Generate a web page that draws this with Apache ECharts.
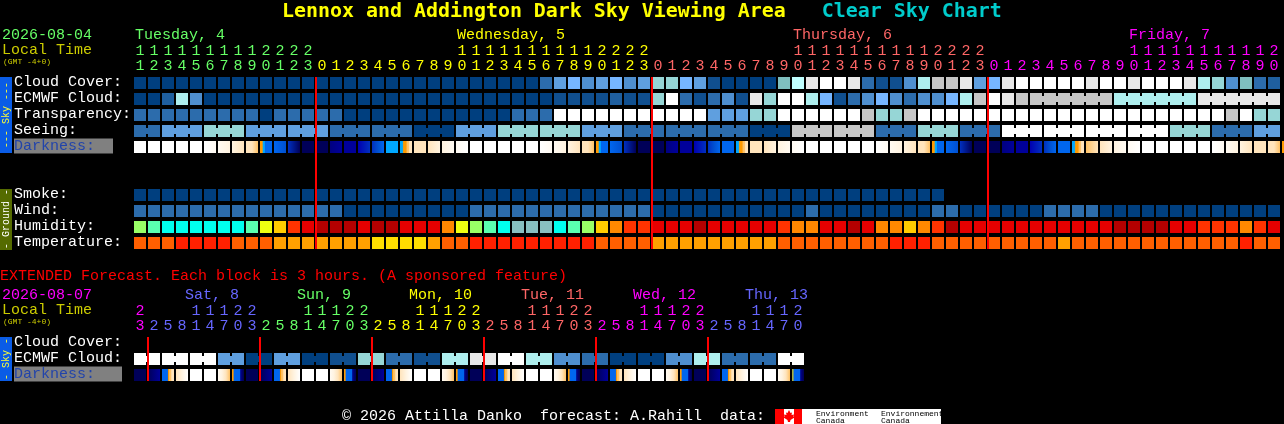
<!DOCTYPE html>
<html>
<head>
<meta charset="utf-8">
<style>html,body{margin:0;padding:0;background:#000}#c{width:1284px;height:424px}</style>
<script src="https://cdn.jsdelivr.net/npm/echarts@6/dist/echarts.min.js"></script>
</head>
<body>
<div id="c"></div>
<script>
// ---------- tick labels ----------
const mainOnes = [1,2,3,4,5,6,7,8,9,0,1,2,3, 0,1,2,3,4,5,6,7,8,9,0,1,2,3,4,5,6,7,8,9,0,1,2,3,
  0,1,2,3,4,5,6,7,8,9,0,1,2,3,4,5,6,7,8,9,0,1,2,3, 0,1,2,3,4,5,6,7,8,9,0,1,2,3,4,5,6,7,8,9,0];
const mainTens = ['1','1','1','1','1','1','1','1','1','2','2','2','2',
  '','','','','','','','','','','1','1','1','1','1','1','1','1','1','1','2','2','2','2',
  '','','','','','','','','','','1','1','1','1','1','1','1','1','1','1','2','2','2','2',
  '','','','','','','','','','','1','1','1','1','1','1','1','1','1','1','2'];
const mainDayOfCol = [0,0,0,0,0,0,0,0,0,0,0,0,0,
  1,1,1,1,1,1,1,1,1,1,1,1,1,1,1,1,1,1,1,1,1,1,1,1,
  2,2,2,2,2,2,2,2,2,2,2,2,2,2,2,2,2,2,2,2,2,2,2,2,
  3,3,3,3,3,3,3,3,3,3,3,3,3,3,3,3,3,3,3,3,3];
const mainDayColors = ['#66ff66','#ffff00','#ff6666','#ff00ff'];
const mainDays = [['Tuesday, 4',0],['Wednesday, 5',23],['Thursday, 6',47],['Friday, 7',71]];
const mainRows = ['Cloud Cover:','ECMWF Cloud:','Transparency:','Seeing:','Darkness:',' ','  ','Smoke:','Wind:','Humidity:','Temperature:'];
const extOnes = [3,2,5,8,1,4,7,0,3,2,5,8,1,4,7,0,3,2,5,8,1,4,7,0,3,2,5,8,1,4,7,0,3,2,5,8,1,4,7,0,3,2,5,8,1,4,7,0];
const extTens = ['2','','','','1','1','1','2','2','','','','1','1','1','2','2','','','','1','1','1','2','2',
  '','','','1','1','1','2','2','','','','1','1','1','2','2','','','','1','1','1','2'];
const extDayOfCol = [0,1,1,1,1,1,1,1,1,2,2,2,2,2,2,2,2,3,3,3,3,3,3,3,3,4,4,4,4,4,4,4,4,5,5,5,5,5,5,5,5,6,6,6,6,6,6,6];
const extDayColors = ['#ff00ff','#6666ff','#66ff66','#ffff00','#ff6666','#ff00ff','#6666ff'];
const extDays = [['Sat, 8',4,'#6666ff'],['Sun, 9',12,'#66ff66'],['Mon, 10',20,'#ffff00'],['Tue, 11',28,'#ff6666'],['Wed, 12',36,'#ff00ff'],['Thu, 13',44,'#6666ff']];
const extRows = ['Cloud Cover:','ECMWF Cloud:','Darkness:'];

// ---------- colour scales ----------
const skyScale = ['#003f7f','#104f8f','#1f5f9f','#2c6cac','#4f8fcf','#5f9fdf','#76b6ff','#7fbfbf','#96d6d6','#aeeeee','#c6c6c6','#e8e8e8','#ffffff','#bfffff'];
const humidityScale = ['#b40000','#e60000','#ff3300','#ff8800','#ffcc00','#eeff11','#99ff66','#5affb0','#00ffee','#88c0c0'];
const temperatureScale = ['#ff2000','#ff5f00','#ffa000','#ffdd00'];
const darkScale = {W:'#ffffff',V:'#fffaf2',C:'#fff3e0',P:'#ffe4bc',O:'#ffc266',A:'#ff9a00',L:'#a8b040',S:'#00a8ff',B:'#0066ee',E:'#0050d0',M:'#0030c0',R:'#0000b0',N:'#00009a',T:'#000080',D:'#000058'};

// ---------- series values (one per hour) ----------
const cloudCover = [
  0,0,0,0,0,0,0,0,0,0, 0,0,0,0,0,0,0,0,0,0, 0,0,0,0,0,0,0,0,0,3,
  5,6,4,5,6,4,5,8,8,6, 5,1,0,0,0,0,7,13,11,12, 12,11,3,1,1,4,9,10,10,11,
  5,6,11,12,12,12,12,12,11,12, 12,11,12,12,12,11,9,8,4,7,3,2];
const ecmwfCloud = [
  0,0,2,9,4,0,0,0,0,0, 0,0,0,0,0,0,0,0,0,0, 0,0,0,0,0,0,0,0,0,0,
  1,1,1,1,2,1,1,8,12,3, 1,3,4,1,11,8,12,12,9,6, 1,3,4,6,4,3,4,4,6,9,
  10,12,11,10,10,10,10,10,10,10, 9,9,9,9,9,9,11,11,11,11,11,11];
const ecmwfLinked = [[64,6],[70,6],[76,6]];
const transparency = [
  3,3,3,3,3,3,3,3,3,0, 3,3,3,3,3,0,0,0,0,0, 0,0,0,0,0,0,0,3,3,3,
  12,12,12,12,12,12,12,12,12,12, 12,5,5,5,8,8,12,12,12,12, 12,12,10,8,8,10,12,12,12,12,
  12,12,12,12,12,12,12,12,12,12, 12,12,12,12,12,12,12,12,10,12,8,8];
const seeingSpans = [2,3,3,3,3,3,3,3,3,3,3,3,3,3,3,3,3,3,3,3,3,3,3,3,3,3,3,2];
const seeingValues = [3,5,8,5,5,3,3,0,5,8,8,5,3,3,3,0,10,10,3,8,3,12,12,12,12,8,3,5];
const darkness = [
  'W','W','W','W','W','WV','VC','CP','PPO','AAASSBBBBBBB','BE','MD','D','D','TN','N','RM','MEB','S','SSSAAAOOPPP','P','PC','CV','VW',
  'W','W','W','W','W','WV','VC','CP','PPO','AAASSBBBBBBB','BE','MD','D','D','TN','N','RM','MEB','B','SSSAAAOOPPP','P','PC','CV','VW',
  'W','W','W','W','W','WV','VC','CP','PPO','AAASSBBBBBBB','BE','MD','D','D','TN','N','RM','MEB','B','SSSAAAOOPPP','OP','PC','CV','VW',
  'W','W','W','W','W','WV','VC','CP','PP','PPO','AAASSBBBBBBB'];
const smoke = [
  0,0,0,0,0,0,0,0,0,0, 0,0,0,0,0,0,0,0,0,0, 0,0,0,0,0,0,0,0,0,0,
  0,0,0,0,0,0,0,0,0,0, 0,0,0,0,0,0,0,0,0,0, 0,0,0,0,0,0,0,0];
const wind = [
  3,3,3,3,3,3,3,3,3,3, 3,3,3,3,3,0,0,0,0,0, 0,0,0,0,3,3,3,3,3,3,
  3,3,3,3,3,3,3,0,0,0, 0,0,0,0,0,0,0,0,3,0, 0,0,0,0,0,0,0,3,3,0,
  0,0,0,0,0,3,3,3,3,0, 0,0,0,0,0,0,0,0,0,0,0,0];
const humidity = [
  6,7,8,8,8,8,8,8,7,5, 4,2,1,0,0,0,1,0,0,1, 1,1,3,5,6,7,8,9,9,9,
  8,7,6,4,3,2,2,1,1,1, 0,1,1,1,1,1,2,3,3,1, 1,0,1,3,3,4,3,2,0,1,
  1,1,1,1,1,1,1,1,1,1, 0,0,0,0,1,1,2,2,2,3,2,1];
const temperature = [
  1,1,1,0,0,0,0,1,1,1, 2,2,2,2,2,2,2,3,3,3, 3,2,1,1,0,0,0,0,0,0,
  0,0,0,1,1,1,1,2,2,2, 2,2,2,2,2,2,1,1,1,1, 1,1,1,1,0,0,0,1,1,1,
  1,1,1,1,1,1,2,1,1,1, 1,1,1,1,1,1,1,1,1,0,1,1];
const midnightCols = [13,37,61];
// ---------- extended forecast (one per 3 hours) ----------
const extCloudCover = [];
const extEcmwfPairs = [12,12,12,5,0,5,0,1,8,3,1,9,11,12,9,4,3,0,0,4,9,3,3,12];
const extDarkness = [
  'D','DN','BBBBBBAOOPPP','PCW','W','W','VCPO','AABBBBBBTTDD',
  'D','DN','BBBBBBAOOPPP','PCW','W','W','VCPO','AABBBBBBTTDD',
  'D','DN','BBBBBBAOOPPP','PCW','W','W','VCPO','AABBBBBBTTDD',
  'D','DN','BBBBBBAOOPPP','PCW','W','W','VCPO','AABBBBBBTTDD',
  'D','DN','BBBBBBAOOPPP','PCW','W','W','VCPO','AABBBBBBTTDD',
  'D','DN','BBBBBBAOOPPP','PCW','W','W','VCPO','LLBBBBBBTTDD'];
const extMidnightCols = [1,9,17,25,33,41];

// ---------- drawing helpers ----------
const MONO = "'Liberation Mono', monospace";
const TITLE = "'DejaVu Sans Mono', monospace";
const CELL = 12, ROW_H = 12;
function cellRender(scale){
  return function(p, api){
    const c = api.coord([api.value(0), api.value(1)]);
    return {type:'rect', shape:{x:c[0]-CELL/2, y:c[1]-ROW_H/2, width:CELL, height:ROW_H}, style:{fill:scale[api.value(2)]}};
  };
}
function neckRender(scale){
  return function(p, api){
    const c = api.coord([api.value(0), api.value(1)]);
    return {type:'rect', shape:{x:c[0]+CELL/2, y:c[1]-3, width:2, height:6}, style:{fill:scale[api.value(2)]}};
  };
}
function darkRender(list){
  return function(p, api){
    const c = api.coord([api.value(0), api.value(1)]);
    const code = list[p.dataIndex];
    let fill;
    if (code.length === 1) fill = darkScale[code];
    else fill = {type:'linear', x:0, y:0, x2:1, y2:0,
      colorStops: code.split('').map((k,i)=>({offset:i/(code.length-1), color:darkScale[k]}))};
    return {type:'rect', shape:{x:c[0]-CELL/2, y:c[1]-ROW_H/2, width:CELL, height:ROW_H}, style:{fill}};
  };
}
function lineRender(p, api){
  const a = api.coord([api.value(0), api.value(1)]);
  const b = api.coord([api.value(0), api.value(2)]);
  return {type:'rect', shape:{x:a[0]-7, y:a[1]-6, width:2, height:b[1]-a[1]+12}, style:{fill:'#ff0000'}};
}
function rowSeries(values, row, scale, xi, yi, z){
  return {type:'custom', xAxisIndex:xi, yAxisIndex:yi, z:z||2, clip:false, silent:true,
    renderItem:cellRender(scale), data:values.map((v,i)=>[i,row,v])};
}
function neckSeries(links, values, row, scale, xi, yi){
  return {type:'custom', xAxisIndex:xi, yAxisIndex:yi, z:2, clip:false, silent:true,
    renderItem:neckRender(scale), data:links.map(i=>[i,row,values[i]])};
}
function expand(spans, vals){ const o=[]; spans.forEach((n,k)=>{for(let j=0;j<n;j++)o.push(vals[k]);}); return o; }
function linksOf(spans){ const o=[]; let s=0; spans.forEach(n=>{for(let j=0;j<n-1;j++)o.push(s+j); s+=n;}); return o; }
const seeing = expand(seeingSpans, seeingValues);
const extEcmwf = expand(extEcmwfPairs.map(()=>2), extEcmwfPairs);
const ecmwfLinks = []; ecmwfLinked.forEach(([s,n])=>{for(let j=0;j<n-1;j++)ecmwfLinks.push(s+j);});

function xAxisFor(grid, labels, colorOf, offset, margin){
  return {type:'category', gridIndex:grid, position:'top', offset:offset, data:labels.map(String), boundaryGap:true,
    axisLine:{show:false}, axisTick:{show:false}, splitLine:{show:false},
    axisLabel:{interval:0, margin:margin, fontFamily:MONO, fontSize:15, color:(v,i)=>colorOf(i), hideOverlap:false}};
}
function yAxisFor(grid, rows, boxChars){
  return {type:'category', gridIndex:grid, inverse:true, data:rows,
    axisLine:{show:false}, axisTick:{show:false}, splitLine:{show:false},
    axisLabel:{interval:0, margin:119, align:'left', fontFamily:MONO, fontSize:15, color:'#ffffff', padding:[0,0,2,0],
      formatter:v=> v==='Darkness:' ? '{d|'+v+'}' : v,
      rich:{d:{backgroundColor:'#808080', color:'#2244aa', fontFamily:MONO, fontSize:15, width:boxChars*9, height:15, lineHeight:15, align:'left'}}}};
}
function txt(text,x,y,fill,size,extra){
  return Object.assign({type:'text', silent:true, style:{text, x, y, fill, font:(extra&&extra.weight||'normal')+' '+size+'px '+MONO, textAlign:extra&&extra.align||'left', textVerticalAlign:'middle'}}, extra&&extra.el||{});
}
function sideText(text,cx,cy,fill){
  return {type:'text', silent:true, x:cx, y:cy, rotation:Math.PI/2,
    style:{text, x:0, y:0, fill, font:'10px '+MONO, textAlign:'center', textVerticalAlign:'middle'}};
}
const L = 134, STEP = 14;
const graphics = [
  {type:'rect', silent:true, shape:{x:0,y:77,width:12,height:76}, style:{fill:'#0a5ce6'}},
  {type:'rect', silent:true, shape:{x:0,y:189,width:12,height:61}, style:{fill:'#556b00'}},
  {type:'rect', silent:true, shape:{x:0,y:337,width:12,height:44}, style:{fill:'#0a5ce6'}},
  sideText('--- Sky ---',6,115,'#ffff33'),
  sideText('- Ground -',6,219,'#ffffff'),
  sideText('- Sky -',6,359,'#ffff33'),
  txt('2026-08-04',2,35,'#66ff66',15),
  txt('Local Time',2,50,'#cccc00',15),
  txt('(GMT -4+0)',3,62,'#cccc00',8),
  txt('EXTENDED Forecast. Each block is 3 hours. (A sponsored feature)',0,276,'#ff0000',15),
  txt('2026-08-07',2,295,'#ff00ff',15),
  txt('Local Time',2,310,'#cccc00',15),
  txt('(GMT -4+0)',3,322,'#cccc00',8),
  txt('\u00a9 2026 Attilla Danko  forecast: A.Rahill  data:',342,416,'#ffffff',15),
  {type:'rect', silent:true, shape:{x:775,y:409,width:166,height:15}, style:{fill:'#ffffff'}},
  {type:'rect', silent:true, shape:{x:775,y:409,width:9,height:15}, style:{fill:'#ff0000'}},
  {type:'rect', silent:true, shape:{x:794,y:409,width:8,height:15}, style:{fill:'#ff0000'}},
  {type:'polygon', silent:true, shape:{points:[[789,410],[790.5,413],[792,412.5],[791.5,415],[794,414.5],[793.5,416.5],[794.5,417.5],[790.5,420],[790,422],[788,422],[787.5,420],[783.5,417.5],[784.5,416.5],[784,414.5],[786.5,415],[786,412.5],[787.5,413]]}, style:{fill:'#ff0000'}},
  txt('Environment',816,414,'#000000',8),
  txt('Canada',816,421,'#000000',8),
  txt('Environnement',881,414,'#000000',8),
  txt('Canada',881,421,'#000000',8)
];
mainDays.forEach(([t,c],i)=>graphics.push(txt(t,L+STEP*c+1,35,mainDayColors[i],15)));
extDays.forEach(([t,c,col])=>graphics.push(txt(t,L+STEP*c-5,295,col,15)));

const option = {
  backgroundColor:'#000000', animation:false,
  title:{left:282, top:0, padding:0, text:'{a|Lennox and Addington Dark Sky Viewing Area   }{b|Clear Sky Chart}',
    textStyle:{rich:{a:{color:'#ffff00',fontFamily:TITLE,fontWeight:'bold',fontSize:19.93,lineHeight:24},b:{color:'#00cccc',fontFamily:TITLE,fontWeight:'bold',fontSize:19.93,lineHeight:24}}}},
  grid:[
    {left:133, top:75, width:STEP*mainOnes.length, height:176},
    {left:133, top:335, width:STEP*extOnes.length, height:48}
  ],
  xAxis:[
    xAxisFor(0, mainOnes, i=>mainDayColors[mainDayOfCol[i]], 0, 1),
    xAxisFor(0, mainTens, i=>mainDayColors[mainDayOfCol[i]], 15, 1),
    xAxisFor(1, extOnes, i=>extDayColors[extDayOfCol[i]], 0, 1),
    xAxisFor(1, extTens, i=>extDayColors[extDayOfCol[i]], 15, 1)
  ],
  yAxis:[ yAxisFor(0, mainRows, 11), yAxisFor(1, extRows, 12) ],
  graphic:{elements:graphics},
  series:[
    rowSeries(cloudCover,0,skyScale,0,0),
    rowSeries(ecmwfCloud,1,skyScale,0,0),
    neckSeries(ecmwfLinks,ecmwfCloud,1,skyScale,0,0),
    rowSeries(transparency,2,skyScale,0,0),
    rowSeries(seeing,3,skyScale,0,0),
    neckSeries(linksOf(seeingSpans),seeing,3,skyScale,0,0),
    {type:'custom',xAxisIndex:0,yAxisIndex:0,z:2,clip:false,silent:true,renderItem:darkRender(darkness),data:darkness.map((v,i)=>[i,4])},
    rowSeries(smoke,7,skyScale,0,0),
    rowSeries(wind,8,skyScale,0,0),
    rowSeries(humidity,9,humidityScale,0,0),
    rowSeries(temperature,10,temperatureScale,0,0),
    {type:'custom',xAxisIndex:0,yAxisIndex:0,z:5,clip:false,silent:true,renderItem:lineRender,data:midnightCols.map(c=>[c,0,10])},
    rowSeries(extCloudCover,0,skyScale,2,1),
    rowSeries(extEcmwf,1,skyScale,2,1),
    neckSeries(linksOf(extEcmwfPairs.map(()=>2)),extEcmwf,1,skyScale,2,1),
    {type:'custom',xAxisIndex:2,yAxisIndex:1,z:2,clip:false,silent:true,renderItem:darkRender(extDarkness),data:extDarkness.map((v,i)=>[i,2])},
    {type:'custom',xAxisIndex:2,yAxisIndex:1,z:5,clip:false,silent:true,renderItem:lineRender,data:extMidnightCols.map(c=>[c,0,2])}
  ]
};
echarts.init(document.getElementById('c'),null,{renderer:'canvas'}).setOption(option);
</script>
</body>
</html>
